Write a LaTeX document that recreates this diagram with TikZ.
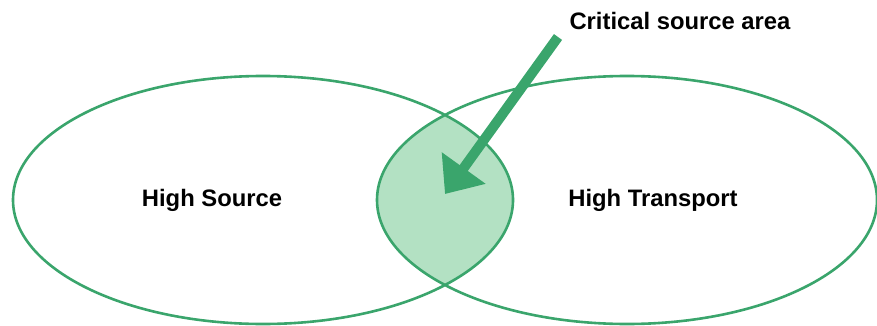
\documentclass[tikz,border=0pt]{standalone}
\usepackage{fontspec}
\setmainfont{Liberation Sans}
\usetikzlibrary{
  positioning,
  arrows.meta,
  shapes.geometric
}
\definecolor{venn}{HTML}{3AA56C}
\definecolor{overlap}{HTML}{B3E1C3}

\begin{document}
\begin{tikzpicture}[
  x=0.5pt, y=-0.5pt,
  region/.style={draw=venn, line width=1.3pt, ellipse, inner sep=0pt,
                 minimum width=250pt, minimum height=124pt},
  lbl/.style={font=\fontsize{11.9}{14}\selectfont\bfseries, inner sep=0pt},
  pointer/.style={-{Triangle[length=16pt, width=26pt]}, line width=5pt, venn}
]
  \useasboundingbox (0,0) rectangle (877,326);

  \coordinate (srcc) at (263,200);
  \coordinate (trnc) at (627,200);

  % shaded overlap
  \begin{scope}
    \clip (srcc) ellipse [x radius=125pt, y radius=62pt];
    \fill[overlap] (trnc) ellipse [x radius=125pt, y radius=62pt];
  \end{scope}

  \node[region] (src) at (srcc) {};
  \node[region] (trn) at (trnc) {};

  \node[lbl] (srclbl) at (212,200) {High Source};
  \node[lbl] (trnlbl) at (653,200) {High Transport};
  \node[lbl] (crit) at (680,21) {Critical source area};

  \coordinate (tail) at (558,37);
  \coordinate (tip) at (445,194);
  \draw[pointer] (tail) -- (tip);
\end{tikzpicture}
\end{document}
